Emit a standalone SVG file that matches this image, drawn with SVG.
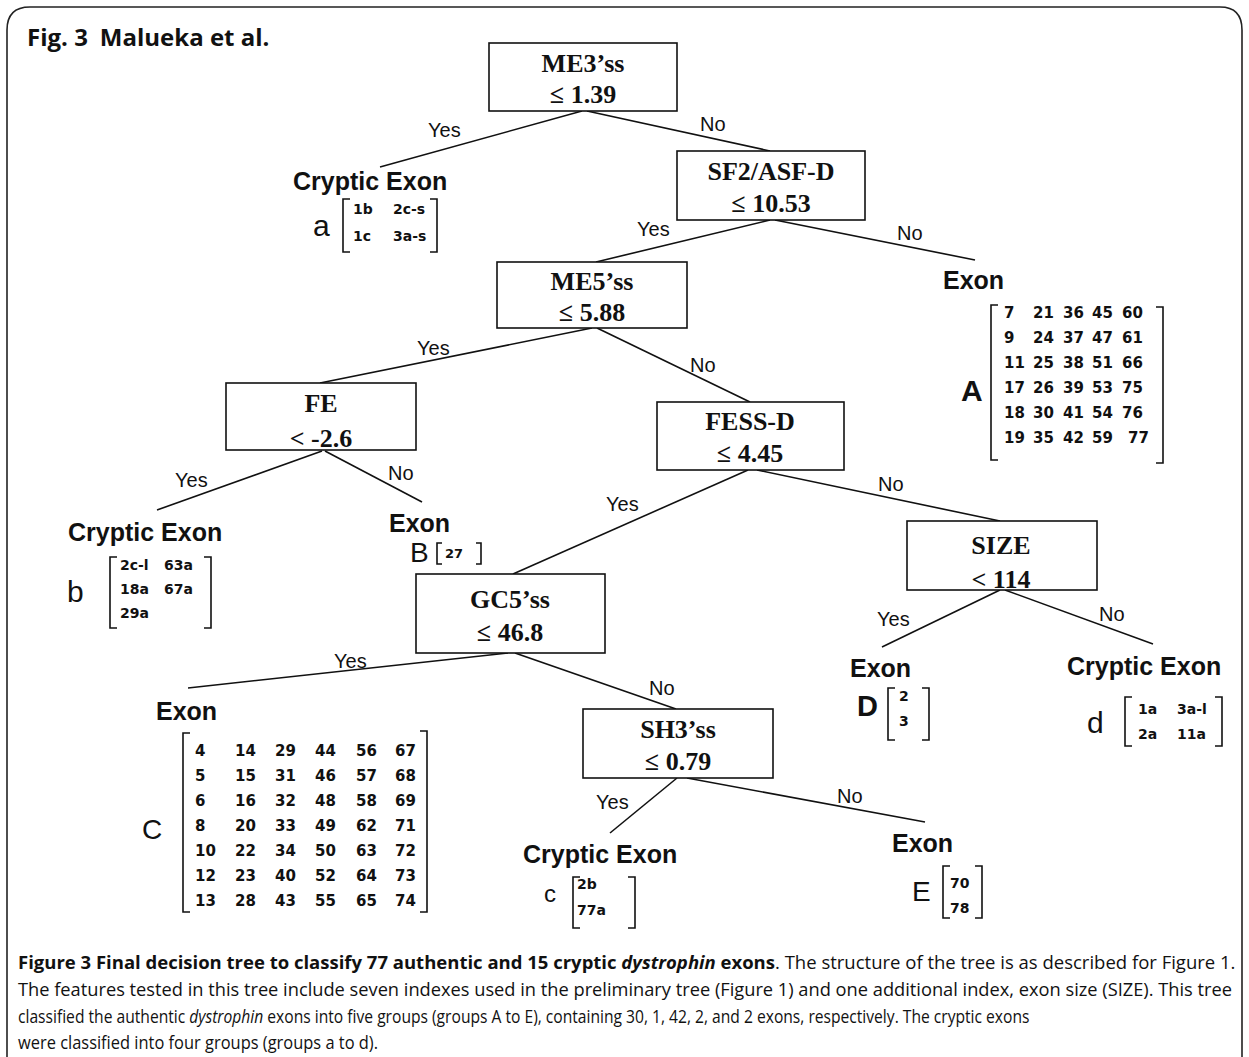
<svg xmlns="http://www.w3.org/2000/svg" width="1249" height="1057" viewBox="0 0 1249 1057">
<defs>
<style>
.frame{fill:none;stroke:#222;stroke-width:1.6}
.box{fill:#fff;stroke:#111;stroke-width:1.6}
.nt{font-family:"Liberation Serif","Times New Roman",serif;font-weight:bold;font-size:26px;fill:#111;text-anchor:middle}
.lab{font-family:"Liberation Sans",Arial,sans-serif;font-size:20px;fill:#111}
.leaf{font-family:"Liberation Sans",Arial,sans-serif;font-weight:bold;font-size:25px;fill:#111}
.gl{font-family:"Liberation Sans",Arial,sans-serif;font-size:30px;fill:#111}
.glb{font-family:"Liberation Sans",Arial,sans-serif;font-size:30px;font-weight:bold;fill:#111}
.m{font-family:"DejaVu Sans",Verdana,sans-serif;font-weight:bold;font-size:15px;fill:#111}
.ms{font-family:"DejaVu Sans",Verdana,sans-serif;font-weight:bold;font-size:14px;fill:#111}
.br{fill:none;stroke:#111;stroke-width:1.6}
.cn line{stroke:#111;stroke-width:1.6}
.cap{font-family:"Open Sans","Liberation Sans",sans-serif;font-size:18.5px;fill:#111}
.hd{font-family:"Open Sans","Liberation Sans",sans-serif;font-weight:bold;font-size:24px;fill:#111}
</style>
</defs>
<rect width="1249" height="1057" fill="#fff"/>
<path class="frame" d="M7,1057 V30 Q7,7 30,7 H1220 Q1242,7 1242,30 V1057"/>
<text class="hd" x="27" y="46">Fig. 3<tspan dx="12">Malueka et al.</tspan></text>

<g id="connectors" class="cn">
<line x1="582" y1="111" x2="380" y2="167"/>
<line x1="587" y1="111" x2="770" y2="151"/>
<line x1="770" y1="220" x2="596" y2="262"/>
<line x1="775" y1="220" x2="975" y2="260"/>
<line x1="592" y1="328" x2="320" y2="383"/>
<line x1="597" y1="328" x2="750" y2="402"/>
<line x1="322" y1="451" x2="157" y2="510"/>
<line x1="325" y1="451" x2="422" y2="502"/>
<line x1="748" y1="470" x2="513" y2="574"/>
<line x1="757" y1="470" x2="1000" y2="521"/>
<line x1="508" y1="653" x2="188" y2="688"/>
<line x1="515" y1="653" x2="676" y2="709"/>
<line x1="1000" y1="590" x2="882" y2="647"/>
<line x1="1005" y1="590" x2="1153" y2="644"/>
<line x1="677" y1="778" x2="610" y2="833"/>
<line x1="687" y1="778" x2="925" y2="822"/>
</g>
<g id="edge-labels">
<text class="lab" x="428" y="137">Yes</text>
<text class="lab" x="700" y="131">No</text>
<text class="lab" x="637" y="236">Yes</text>
<text class="lab" x="897" y="240">No</text>
<text class="lab" x="417" y="355">Yes</text>
<text class="lab" x="690" y="372">No</text>
<text class="lab" x="175" y="487">Yes</text>
<text class="lab" x="388" y="480">No</text>
<text class="lab" x="606" y="511">Yes</text>
<text class="lab" x="878" y="491">No</text>
<text class="lab" x="334" y="668">Yes</text>
<text class="lab" x="649" y="695">No</text>
<text class="lab" x="877" y="626">Yes</text>
<text class="lab" x="1099" y="621">No</text>
<text class="lab" x="596" y="809">Yes</text>
<text class="lab" x="837" y="803">No</text>
</g>

<g id="n-me3ss"><rect class="box" x="489" y="43" width="188" height="68"/><text class="nt" x="583" y="72">ME3’ss</text><text class="nt" x="583" y="103">≤ 1.39</text></g>
<g id="n-sf2"><rect class="box" x="677" y="151" width="188" height="69"/><text class="nt" x="771" y="180">SF2/ASF-D</text><text class="nt" x="771" y="212">≤ 10.53</text></g>
<g id="n-me5ss"><rect class="box" x="497" y="262" width="190" height="66"/><text class="nt" x="592" y="290">ME5’ss</text><text class="nt" x="592" y="321">≤ 5.88</text></g>
<g id="n-fe"><rect class="box" x="226" y="383" width="190" height="67"/><text class="nt" x="321" y="412">FE</text><text class="nt" x="321" y="447">&lt; -2.6</text></g>
<g id="n-fessd"><rect class="box" x="657" y="402" width="187" height="68"/><text class="nt" x="750" y="430">FESS-D</text><text class="nt" x="750" y="462">≤ 4.45</text></g>
<g id="n-gc5ss"><rect class="box" x="416" y="574" width="189" height="79"/><text class="nt" x="510" y="608">GC5’ss</text><text class="nt" x="510" y="641">≤ 46.8</text></g>
<g id="n-size"><rect class="box" x="907" y="521" width="190" height="69"/><text class="nt" x="1001" y="554">SIZE</text><text class="nt" x="1001" y="588">&lt; 114</text></g>
<g id="n-sh3ss"><rect class="box" x="583" y="709" width="190" height="69"/><text class="nt" x="678" y="738">SH3’ss</text><text class="nt" x="678" y="770">≤ 0.79</text></g>

<g id="leaf-a">
<text class="leaf" x="293" y="190">Cryptic Exon</text>
<text class="gl" x="313" y="236">a</text>
<path class="br" d="M350,199 H343 V252 H350 M430,199 H437 V252 H430"/>
<text class="ms" x="353" y="214">1b</text><text class="ms" x="393" y="214">2c-s</text>
<text class="ms" x="353" y="241">1c</text><text class="ms" x="393" y="241">3a-s</text>
</g>

<g id="leaf-A">
<text class="leaf" x="943" y="289">Exon</text>
<text class="glb" x="961" y="401">A</text>
<path class="br" d="M998,305 H991 V460 H998 M1156,307 H1163 V463 H1156"/>
<g class="m">
<text x="1004" y="318">7</text><text x="1033" y="318">21</text><text x="1063" y="318">36</text><text x="1092" y="318">45</text><text x="1122" y="318">60</text>
<text x="1004" y="343">9</text><text x="1033" y="343">24</text><text x="1063" y="343">37</text><text x="1092" y="343">47</text><text x="1122" y="343">61</text>
<text x="1004" y="368">11</text><text x="1033" y="368">25</text><text x="1063" y="368">38</text><text x="1092" y="368">51</text><text x="1122" y="368">66</text>
<text x="1004" y="393">17</text><text x="1033" y="393">26</text><text x="1063" y="393">39</text><text x="1092" y="393">53</text><text x="1122" y="393">75</text>
<text x="1004" y="418">18</text><text x="1033" y="418">30</text><text x="1063" y="418">41</text><text x="1092" y="418">54</text><text x="1122" y="418">76</text>
<text x="1004" y="443">19</text><text x="1033" y="443">35</text><text x="1063" y="443">42</text><text x="1092" y="443">59</text><text x="1128" y="443">77</text>
</g>
</g>

<g id="leaf-b">
<text class="leaf" x="68" y="541">Cryptic Exon</text>
<text class="gl" x="67" y="602">b</text>
<path class="br" d="M117,557 H110 V628 H117 M204,557 H211 V628 H204"/>
<text class="ms" x="120" y="570">2c-l</text><text class="ms" x="164" y="570">63a</text>
<text class="ms" x="120" y="594">18a</text><text class="ms" x="164" y="594">67a</text>
<text class="ms" x="120" y="618">29a</text>
</g>

<g id="leaf-B">
<text class="leaf" x="389" y="532">Exon</text>
<text class="gl" x="410" y="562" style="font-size:28px">B</text>
<path class="br" d="M442,543 H437 V564 H442 M476,543 H481 V564 H476"/>
<text class="ms" x="445" y="558" style="font-size:13px">27</text>
</g>

<g id="leaf-C">
<text class="leaf" x="156" y="720">Exon</text>
<text class="gl" x="142" y="839" style="font-size:28px">C</text>
<path class="br" d="M190,733 H183 V912 H190 M420,731 H427 V912 H420"/>
<g class="m">
<text x="195" y="756">4</text><text x="235" y="756">14</text><text x="275" y="756">29</text><text x="315" y="756">44</text><text x="356" y="756">56</text><text x="395" y="756">67</text>
<text x="195" y="781">5</text><text x="235" y="781">15</text><text x="275" y="781">31</text><text x="315" y="781">46</text><text x="356" y="781">57</text><text x="395" y="781">68</text>
<text x="195" y="806">6</text><text x="235" y="806">16</text><text x="275" y="806">32</text><text x="315" y="806">48</text><text x="356" y="806">58</text><text x="395" y="806">69</text>
<text x="195" y="831">8</text><text x="235" y="831">20</text><text x="275" y="831">33</text><text x="315" y="831">49</text><text x="356" y="831">62</text><text x="395" y="831">71</text>
<text x="195" y="856">10</text><text x="235" y="856">22</text><text x="275" y="856">34</text><text x="315" y="856">50</text><text x="356" y="856">63</text><text x="395" y="856">72</text>
<text x="195" y="881">12</text><text x="235" y="881">23</text><text x="275" y="881">40</text><text x="315" y="881">52</text><text x="356" y="881">64</text><text x="395" y="881">73</text>
<text x="195" y="906">13</text><text x="235" y="906">28</text><text x="275" y="906">43</text><text x="315" y="906">55</text><text x="356" y="906">65</text><text x="395" y="906">74</text>
</g>
</g>

<g id="leaf-c">
<text class="leaf" x="523" y="863">Cryptic Exon</text>
<text class="gl" x="544" y="902" style="font-size:24px">c</text>
<path class="br" d="M580,877 H573 V928 H580 M628,877 H635 V928 H628"/>
<text class="ms" x="577" y="889">2b</text>
<text class="ms" x="577" y="915">77a</text>
</g>

<g id="leaf-D">
<text class="leaf" x="850" y="677">Exon</text>
<text class="glb" x="857" y="716" style="font-size:29px">D</text>
<path class="br" d="M895,688 H888 V740 H895 M922,688 H929 V740 H922"/>
<text class="ms" x="899" y="701">2</text>
<text class="ms" x="899" y="726">3</text>
</g>

<g id="leaf-d">
<text class="leaf" x="1067" y="675">Cryptic Exon</text>
<text class="gl" x="1087" y="733">d</text>
<path class="br" d="M1132,697 H1125 V746 H1132 M1215,697 H1222 V746 H1215"/>
<text class="ms" x="1138" y="714">1a</text><text class="ms" x="1177" y="714">3a-l</text>
<text class="ms" x="1138" y="739">2a</text><text class="ms" x="1177" y="739">11a</text>
</g>

<g id="leaf-E">
<text class="leaf" x="892" y="852">Exon</text>
<text class="gl" x="912" y="901" style="font-size:28px">E</text>
<path class="br" d="M950,866 H943 V918 H950 M975,866 H982 V918 H975"/>
<text class="ms" x="950" y="888">70</text>
<text class="ms" x="950" y="913">78</text>
</g>

<g id="caption">
<text class="cap" x="18" y="969"><tspan font-weight="bold">Figure 3 Final decision tree to classify 77 authentic and 15 cryptic <tspan font-style="italic">dystrophin</tspan> exons</tspan>. The structure of the tree is as described for Figure 1.</text>
<text class="cap" x="18" y="996" textLength="1214" lengthAdjust="spacingAndGlyphs">The features tested in this tree include seven indexes used in the preliminary tree (Figure 1) and one additional index, exon size (SIZE). This tree</text>
<text class="cap" transform="translate(18,1023) scale(0.845,1)" x="0" y="0">classified the authentic <tspan font-style="italic">dystrophin</tspan> exons into five groups (groups A to E), containing 30, 1, 42, 2, and 2 exons, respectively. The cryptic exons</text>
<text class="cap" x="18" y="1049" textLength="360" lengthAdjust="spacingAndGlyphs">were classified into four groups (groups a to d).</text>
</g>
</svg>
